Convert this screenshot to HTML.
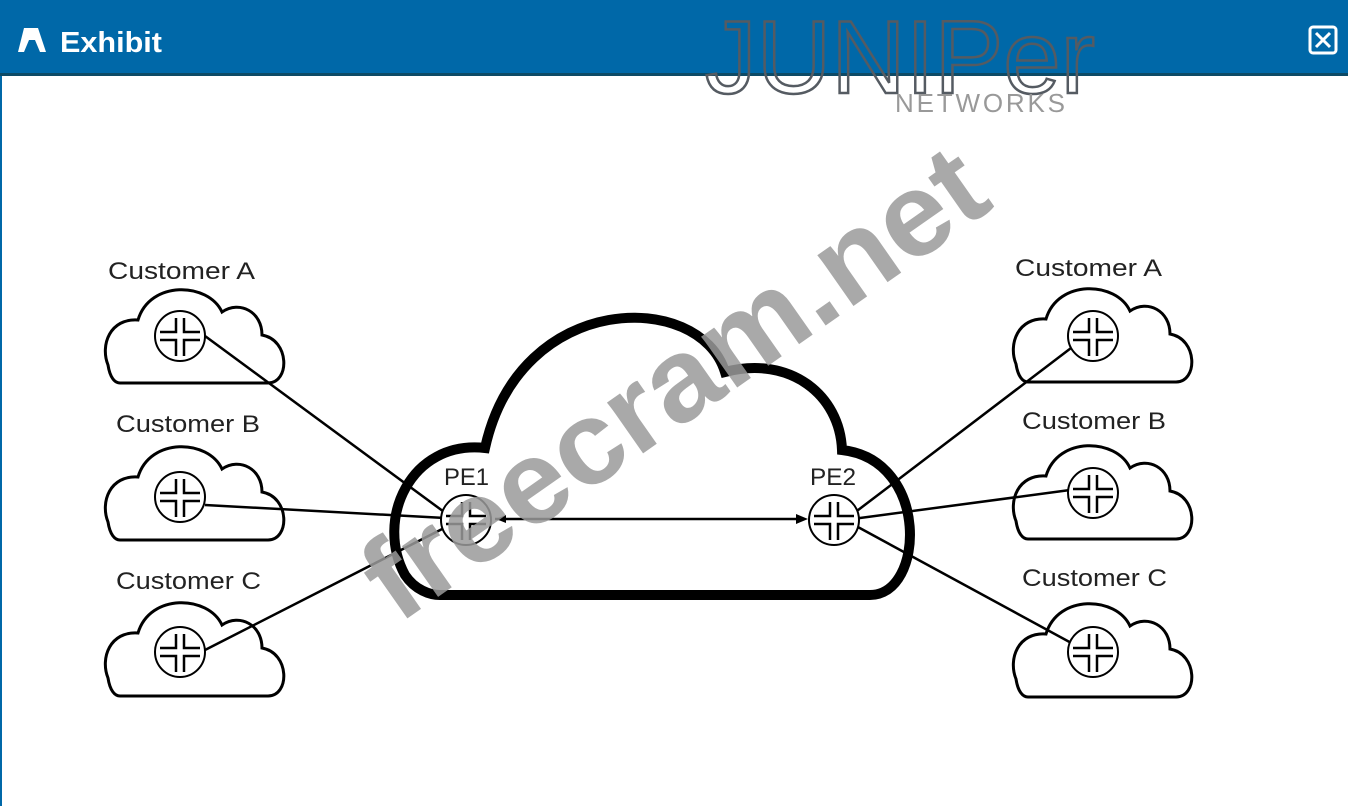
<!DOCTYPE html>
<html><head><meta charset="utf-8"><style>
body{margin:0;width:1348px;height:806px;overflow:hidden;background:#fff;font-family:"Liberation Sans",sans-serif}
</style></head><body>
<svg width="1348" height="806" viewBox="0 0 1348 806" xmlns="http://www.w3.org/2000/svg">
<defs>
<path id="cl" d="M15,93 H163 C185,93 185,50 157,45 C157,22 135,10 117,22 C103,-8 45,-10 33,30 C5,28 -5,55 3,75 C5,88 10,93 15,93Z" fill="#fff" stroke="#000" stroke-width="3"/>
<g id="rt"><circle r="25" fill="#fff" stroke="#000" stroke-width="2"/>
<path d="M-4,-18 V-4 H-20 M4,-18 V-4 H20 M-20,4 H-4 V20 M4,20 V4 H20" fill="none" stroke="#000" stroke-width="2.5"/></g>
</defs>
<rect x="0" y="0" width="1348" height="75" fill="#0068a8"/>
<rect x="0" y="73" width="1348" height="3" fill="#0d4a66"/>
<rect x="0" y="76" width="2" height="730" fill="#0068a8"/>
<path d="M18,52 L24,28 H38 L46,52 H40 L35,40 H29 L24,52Z" fill="#fff"/>
<text x="60" y="52" font-size="29" font-weight="bold" fill="#fff" font-family="Liberation Sans, sans-serif" textLength="102" lengthAdjust="spacingAndGlyphs">Exhibit</text>
<rect x="1310" y="27" width="26" height="26" rx="3" fill="none" stroke="#fff" stroke-width="3"/>
<path d="M1316,33 L1330,47 M1330,33 L1316,47" stroke="#fff" stroke-width="3"/>
<text x="705" y="93" font-size="104" fill="none" stroke="#555b62" stroke-width="2.5" font-family="Liberation Sans, sans-serif" textLength="390" lengthAdjust="spacingAndGlyphs">JUNIPer</text>
<text x="895" y="112" font-size="26" fill="#999" font-family="Liberation Sans, sans-serif" textLength="170">NETWORKS</text>

<path d="M440,595 H870 C925,595 930,460 842,450 C840,395 790,355 725,372 C700,290 520,290 485,448 C410,440 375,520 405,575 C415,590 430,595 440,595 Z" fill="#fff" stroke="#000" stroke-width="10"/>

<use href="#cl" x="105" y="290"/><use href="#cl" x="105" y="447"/><use href="#cl" x="105" y="603"/>
<use href="#cl" x="1013" y="289"/><use href="#cl" x="1013" y="446"/><use href="#cl" x="1013" y="604"/>

<g stroke="#000" stroke-width="2.5" fill="none">
<line x1="205" y1="336" x2="455" y2="520"/>
<line x1="205" y1="505" x2="445" y2="518"/>
<line x1="205" y1="650" x2="450" y2="525"/>
<line x1="495" y1="519" x2="800" y2="519"/>
<line x1="845" y1="520" x2="1075" y2="345"/>
<line x1="845" y1="520" x2="1070" y2="490"/>
<line x1="845" y1="520" x2="1075" y2="645"/>
</g>
<path d="M808,519 L796,514 L796,524Z M496,519 L506,515 L506,523Z"/>

<use href="#rt" x="180" y="336"/><use href="#rt" x="180" y="497"/><use href="#rt" x="180" y="652"/>
<use href="#rt" x="1093" y="336"/><use href="#rt" x="1093" y="493"/><use href="#rt" x="1093" y="652"/>
<use href="#rt" x="466" y="520"/><use href="#rt" x="834" y="520"/>

<g font-size="24" fill="#222" font-family="Liberation Sans, sans-serif" lengthAdjust="spacingAndGlyphs">
<text x="108" y="279" textLength="147" lengthAdjust="spacingAndGlyphs">Customer A</text>
<text x="116" y="432" textLength="144" lengthAdjust="spacingAndGlyphs">Customer B</text>
<text x="116" y="589" textLength="145" lengthAdjust="spacingAndGlyphs">Customer C</text>
<text x="1015" y="276" textLength="147" lengthAdjust="spacingAndGlyphs">Customer A</text>
<text x="1022" y="429" textLength="144" lengthAdjust="spacingAndGlyphs">Customer B</text>
<text x="1022" y="586" textLength="145" lengthAdjust="spacingAndGlyphs">Customer C</text>
<text x="444" y="485" textLength="45" lengthAdjust="spacingAndGlyphs">PE1</text>
<text x="810" y="485" textLength="46" lengthAdjust="spacingAndGlyphs">PE2</text>
</g>
<text x="0" y="0" font-size="118" font-weight="bold" fill="#9a9a9a" fill-opacity="0.85" font-family="Liberation Sans, sans-serif" transform="translate(398,625) rotate(-35)" textLength="730" lengthAdjust="spacingAndGlyphs">freecram.net</text>
</svg>
</body></html>
